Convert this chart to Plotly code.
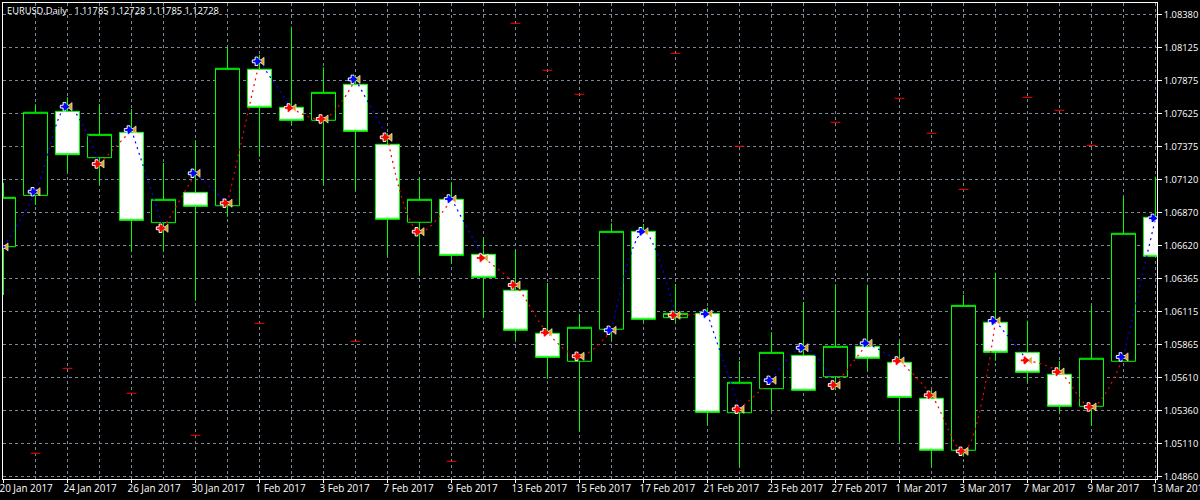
import numpy as np
import plotly.graph_objects as go

# One entry per daily bar; index = bar position
dates = ["20 Jan 2017","23 Jan 2017","24 Jan 2017","25 Jan 2017","26 Jan 2017","27 Jan 2017","30 Jan 2017","31 Jan 2017",
         "1 Feb 2017","2 Feb 2017","3 Feb 2017","6 Feb 2017","7 Feb 2017","8 Feb 2017","9 Feb 2017","10 Feb 2017",
         "13 Feb 2017","14 Feb 2017","15 Feb 2017","16 Feb 2017","17 Feb 2017","20 Feb 2017","21 Feb 2017","22 Feb 2017",
         "23 Feb 2017","24 Feb 2017","27 Feb 2017","28 Feb 2017","1 Mar 2017","2 Mar 2017","3 Mar 2017","6 Mar 2017",
         "7 Mar 2017","8 Mar 2017","9 Mar 2017","10 Mar 2017","13 Mar 2017"]
opens = [1.06611,1.07002,1.07642,1.07289,1.07482,1.06794,1.07025,1.06923,1.07963,1.07673,1.07574,1.07848,1.07391,
         1.06797,1.06972,1.06553,1.06279,1.05951,1.05738,1.05982,1.06728,1.06070,1.06103,1.05346,1.05529,1.05783,
         1.05620,1.05852,1.05730,1.05456,1.05060,1.06035,1.05806,1.05639,1.05395,1.05738,1.06835]
closes = [1.06987,1.07635,1.07312,1.07467,1.06812,1.06972,1.06919,1.07970,1.07673,1.07574,1.07787,1.07490,1.06820,
          1.06972,1.06545,1.06378,1.05974,1.05768,1.05997,1.06728,1.06058,1.06103,1.05349,1.05578,1.05806,1.05517,
          1.05852,1.05761,1.05463,1.05060,1.06164,1.05806,1.05654,1.05395,1.05761,1.06713,1.06538]
highs = [1.07098,1.07696,1.07749,1.07698,1.07660,1.07249,1.07422,1.08130,1.08071,1.08287,1.07978,1.07919,1.07475,
         1.07137,1.07102,1.06683,1.06586,1.06334,1.06098,1.06789,1.06784,1.06327,1.06149,1.05740,1.05959,1.06190,
         1.06324,1.06321,1.05887,1.05519,1.06243,1.06413,1.06047,1.05740,1.06159,1.06992,1.07144]
lows = [1.06243,1.06929,1.07178,1.07081,1.06571,1.06578,1.06200,1.06839,1.07297,1.07543,1.07086,1.07041,1.06548,
        1.06395,1.06489,1.06070,1.05900,1.05605,1.05207,1.05895,1.06040,1.06032,1.05252,1.04935,1.05359,1.05512,
        1.05519,1.05666,1.05125,1.04935,1.05011,1.05742,1.05578,1.05346,1.05247,1.05738,1.06538]

# Zigzag signal through the bars and its direction per point ("b" buy/blue, "r" sell/red)
signal = [1.06609,1.07030,1.07678,1.07241,1.07500,1.06751,1.07170,1.06942,1.08023,1.07668,1.07584,1.07886,1.07444,
          1.06725,1.06974,1.06525,1.06319,1.05956,1.05776,1.05974,1.06725,1.06088,1.06098,1.05372,1.05593,1.05841,
          1.05557,1.05875,1.05740,1.05479,1.05052,1.06045,1.05745,1.05656,1.05390,1.05771,1.06827]
direction = list("bbbrbrbrbrrbrrbrrrrbbrbrbbrbrrrbrrrbb")

# Stray red dashes
dash_bars = [1,2,4,6,8,11,14,16,17,18,21,23,26,28,29,30,32,33,34]
dash_prices = [1.05037,1.05684,1.05494,1.05174,1.06027,1.05890,1.04976,1.08313,1.07955,1.07772,1.08084,1.07376,
               1.07559,1.07742,1.07475,1.07048,1.07749,1.07650,1.07383]

price_labels = ["1.08380","1.08125","1.07875","1.07625","1.07375","1.07120","1.06870","1.06620","1.06365",
                "1.06115","1.05865","1.05610","1.05360","1.05110","1.04860"]

BLUE, RED, ORANGE, GREEN, WHITE = "#0000ff", "#ff0000", "#daa520", "#00ff00", "#ffffff"
GRID = "#778899"
FONT = "Open Sans"
TXT = "#ffffff"

bars = np.arange(len(dates))
fig = go.Figure()

fig.add_trace(go.Candlestick(
    x=bars, open=opens, high=highs, low=lows, close=closes, whiskerwidth=0,
    increasing=dict(line=dict(color=GREEN, width=1), fillcolor="#000000"),
    decreasing=dict(line=dict(color=GREEN, width=1), fillcolor=WHITE),
    showlegend=False, hoverinfo="skip"))

# Dotted spline: each same-coloured run is one trace, a run ends on the next point
start = 0
for i in range(1, len(bars) + 1):
    if i == len(bars) or direction[i] != direction[start]:
        end = min(i, len(bars) - 1)
        fig.add_trace(go.Scatter(
            x=bars[start:end + 1].tolist(), y=signal[start:end + 1], mode="lines",
            line=dict(color=BLUE if direction[start] == "b" else RED, width=1.2,
                      dash="2px,4px", shape="spline", smoothing=1.0),
            showlegend=False, hoverinfo="skip"))
        start = i

fig.add_trace(go.Scatter(
    x=dash_bars, y=dash_prices, mode="markers",
    marker=dict(symbol="line-ew", size=7, line=dict(color=RED, width=1)),
    showlegend=False, hoverinfo="skip"))

# Signal markers: orange flag + coloured arrow
PX = 1 / 32.0
fig.add_trace(go.Scatter(
    x=bars + 2.8 * PX, y=signal, mode="markers",
    marker=dict(symbol="triangle-left", size=7, color=ORANGE, line=dict(color=WHITE, width=0.6)),
    showlegend=False, hoverinfo="skip"))
fig.add_trace(go.Scatter(
    x=bars - 3 * PX, y=signal, mode="markers",
    marker=dict(symbol="cross", size=7, color=[BLUE if d == "b" else RED for d in direction],
                line=dict(color=WHITE, width=1)),
    showlegend=False, hoverinfo="skip"))
fig.add_trace(go.Scatter(
    x=bars - 1.5 * PX, y=signal, mode="markers",
    marker=dict(symbol="triangle-right", size=7, color=[BLUE if d == "b" else RED for d in direction],
                line=dict(width=0)),
    showlegend=False, hoverinfo="skip"))

fig.add_annotation(x=2 / 1154, y=1 - 7.5 / 476, xref="paper", yref="paper", xanchor="left", yanchor="middle",
                   text="EURUSD,Daily   1.11785 1.12728 1.11785 1.12728", showarrow=False,
                   font=dict(family=FONT, size=9.3, color=TXT))

x_major = bars[::2]
fig.update_layout(
    width=1200, height=500, autosize=False,
    margin=dict(l=3, r=43, t=3, b=21, pad=0, autoexpand=False),
    paper_bgcolor="#000000", plot_bgcolor="#000000",
    boxgap=0.25, boxgroupgap=0, hovermode=False, showlegend=False,
    xaxis=dict(
        automargin=False, tickangle=0,
        range=[-0.0156, 36.0469], rangeslider=dict(visible=False),
        tickmode="array", tickvals=x_major, ticktext=[dates[i] for i in x_major],
        ticklabelposition="outside right", ticklabeloverflow="allow", ticklabelshift=-5,
        ticks="outside", ticklen=3, tickcolor=WHITE, tickwidth=1,
        tickfont=dict(family=FONT, size=9.9, color=TXT),
        showgrid=True, gridcolor=GRID, griddash="3px,3px", gridwidth=1,
        minor=dict(tickmode="array", tickvals=bars[1::2], showgrid=True, gridcolor=GRID,
                   griddash="3px,3px", gridwidth=1, ticks=""),
        showline=True, linecolor=WHITE, linewidth=1, mirror=True, zeroline=False),
    yaxis=dict(
        automargin=False,
        range=[1.04841, 1.084676], side="right",
        tickmode="array", tickvals=np.linspace(1.0838, 1.0486, len(price_labels)), ticktext=price_labels,
        ticks="outside", ticklen=4, tickcolor=WHITE, tickwidth=1,
        tickfont=dict(family=FONT, size=9.3, color=TXT),
        showgrid=True, gridcolor=GRID, griddash="3px,3px", gridwidth=1,
        showline=True, linecolor=WHITE, linewidth=1, mirror=True, zeroline=False),
)

fig.write_html("out.html", post_script="document.body.style.margin='0';",
               config=dict(displayModeBar=False, responsive=False))
